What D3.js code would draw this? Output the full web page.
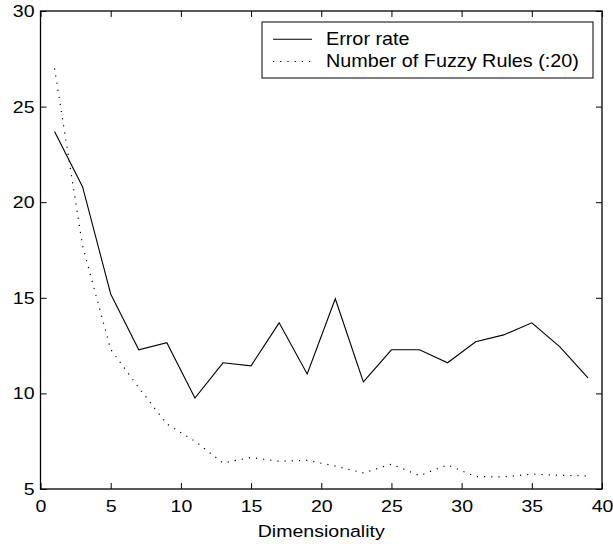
<!DOCTYPE html>
<html><head><meta charset="utf-8">
<script src="https://cdn.jsdelivr.net/npm/d3@7"></script>
<style>body{margin:0;background:#fff}svg{display:block}text{font-family:"Liberation Sans",Arial,Helvetica,sans-serif}</style>
</head><body>
<script>
const dims = [1,3,5,7,9,11,13,15,17,19,21,23,25,27,29,31,33,35,37,39];
const errorRate = [23.7,20.8,15.2,12.28,12.65,9.76,11.6,11.44,13.69,11.02,14.95,10.6,12.28,12.28,11.6,12.7,13.06,13.69,12.43,10.81];
const fuzzyRules = [27.0,17.7,12.3,10.3,8.4,7.5,6.36,6.65,6.45,6.5,6.2,5.84,6.3,5.7,6.26,5.65,5.63,5.78,5.72,5.68];
const xTicks = [0,5,10,15,20,25,30,35,40];
const yTicks = [5,10,15,20,25,30];
const seriesNames = ["Error rate","Number of Fuzzy Rules (:20)"];

const W=613,H=544;
const m={l:40.5,r:602,t:11,b:489};
const svg=d3.select("body").append("svg").attr("width",W).attr("height",H);
const x=d3.scaleLinear().domain([0,40]).range([m.l,m.r]);
const y=d3.scaleLinear().domain([5,30]).range([m.b,m.t]);

const fs=17, sx=1.15;
const axB=d3.axisBottom(x).tickValues(xTicks).tickSizeInner(-6).tickSizeOuter(0).tickPadding(11);
const axL=d3.axisLeft(y).tickValues(yTicks).tickSizeInner(-6).tickSizeOuter(0).tickPadding(6);
const axT=d3.axisTop(x).tickValues(xTicks).tickSizeInner(-6).tickSizeOuter(0).tickFormat("");
const axR=d3.axisRight(y).tickValues(yTicks).tickSizeInner(-6).tickSizeOuter(0).tickFormat("");
function style(g){
  g.select(".domain").remove();
  g.selectAll("line").attr("stroke","#000");
  g.selectAll("text").attr("font-size",fs).attr("fill","#000").attr("transform",`scale(${sx},1)`)
   .attr("x",function(){const v=+d3.select(this).attr("x")||0;return v/sx;});
}
svg.append("g").attr("transform",`translate(0,${m.b})`).call(axB).call(style);
svg.append("g").attr("transform",`translate(${m.l},0)`).call(axL).call(style);
svg.append("g").attr("transform",`translate(0,${m.t})`).call(axT).call(style);
svg.append("g").attr("transform",`translate(${m.r},0)`).call(axR).call(style);
svg.append("rect").attr("x",m.l).attr("y",m.t).attr("width",m.r-m.l).attr("height",m.b-m.t).attr("fill","none").attr("stroke","#000").attr("stroke-width",1.3);

const line=d3.line().x((d,i)=>x(dims[i])).y(d=>y(d));
svg.append("path").datum(errorRate).attr("d",line).attr("fill","none").attr("stroke","#000").attr("stroke-width",1.1);
svg.append("path").datum(fuzzyRules).attr("d",line).attr("fill","none").attr("stroke","#000").attr("stroke-width",1.2).attr("stroke-dasharray","1.2,6");

svg.append("text").attr("transform",`translate(${(m.l+m.r)/2},537) scale(${sx},1)`).attr("text-anchor","middle").attr("font-size",fs).text("Dimensionality");

const lg=svg.append("g");
lg.append("rect").attr("x",262).attr("y",22).attr("width",331).attr("height",56).attr("fill","#fff").attr("stroke","#000").attr("stroke-width",1);
seriesNames.forEach((n,i)=>{
  const yy=39.3+i*22.2;
  lg.append("line").attr("x1",273).attr("x2",312).attr("y1",yy).attr("y2",yy).attr("stroke","#000").attr("stroke-width",i?1.2:1.1).attr("stroke-dasharray",i?"1.2,6":null);
  lg.append("text").attr("transform",`translate(326,${45+i*22}) scale(1.1,1)`).attr("font-size",18).text(n);
});
</script>
</body></html>
